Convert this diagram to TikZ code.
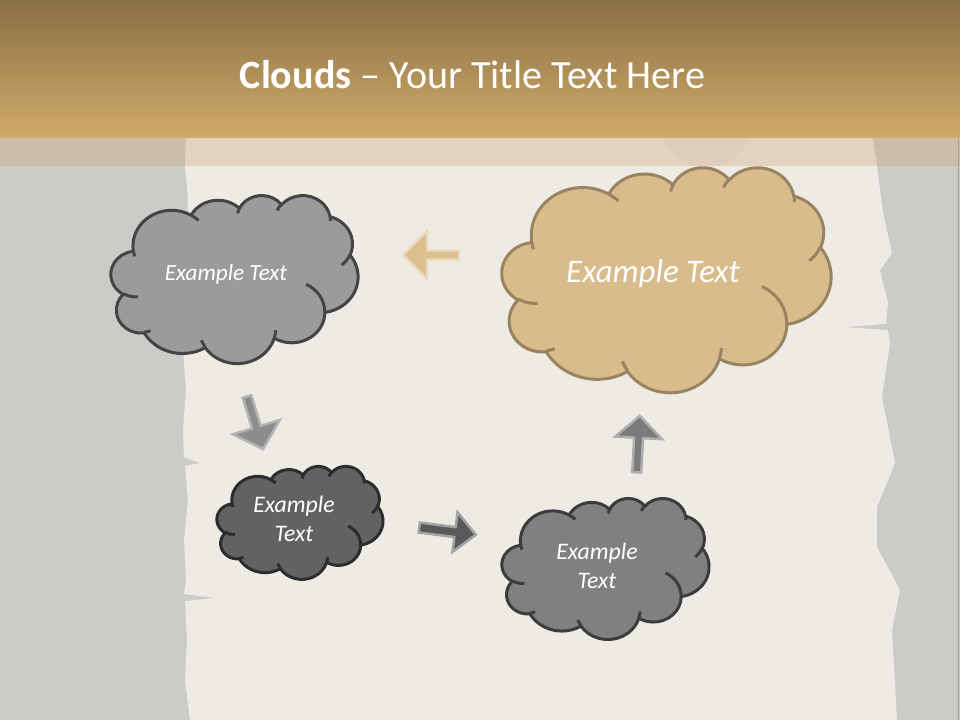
\documentclass[tikz,border=0pt]{standalone}
\usepackage{fontspec}
\setmainfont{Carlito}
\definecolor{bggray}{HTML}{CBCBC8}
\definecolor{paper}{HTML}{EEEBE5}
\definecolor{bandtop}{HTML}{8B7046}
\definecolor{bandbot}{HTML}{CFAA69}
\definecolor{stripc}{HTML}{C8A36A}
\definecolor{cAfill}{HTML}{9B9B9B}
\definecolor{cAline}{HTML}{444444}
\definecolor{cBfill}{HTML}{D9BC8C}
\definecolor{cBline}{HTML}{9A8361}
\definecolor{cCfill}{HTML}{626262}
\definecolor{cCline}{HTML}{2C2C2C}
\definecolor{cDfill}{HTML}{808080}
\definecolor{cDline}{HTML}{3C3C3C}
\definecolor{aAfill}{HTML}{DCBF8F}
\definecolor{aAline}{HTML}{EAD9BD}
\definecolor{aBfill}{HTML}{8D8D8D}
\definecolor{aBline}{HTML}{B3B3B3}
\definecolor{aCfill}{HTML}{595959}
\definecolor{aCline}{HTML}{A3A3A3}
\definecolor{aDfill}{HTML}{7B7B7B}
\definecolor{aDline}{HTML}{AEAEAE}

\newcommand\cloudpath{}
\newcommand\cloudinner{}
\newcommand\cloudaddarc[4]{%
  \pgfmathsetmacro\clTa{atan2((#1)*sin(#3),(#2)*cos(#3))}%
  \pgfmathsetmacro\clTb{atan2((#1)*sin((#3)+(#4)),(#2)*cos((#3)+(#4)))}%
  \pgfmathsetmacro\clTb{ifthenelse(\clTb<\clTa,\clTb+360,\clTb)}%
  \xdef\cloudpath{\cloudpath arc[start angle=\clTa, end angle=\clTb, x radius=#1, y radius=#2] }%
}
\newcommand\cloudaddinner[6]{%
  \pgfmathsetmacro\clTa{atan2((#3)*sin(#5),(#4)*cos(#5))}%
  \pgfmathsetmacro\clTb{atan2((#3)*sin((#5)+(#6)),(#4)*cos((#5)+(#6)))}%
  \pgfmathsetmacro\clTb{ifthenelse(\clTb<\clTa,\clTb+360,\clTb)}%
  \xdef\cloudinner{\cloudinner (#1,#2) arc[start angle=\clTa, end angle=\clTb, x radius=#3, y radius=#4] }%
}
\newcommand\drawcloud[5]{%
  \begin{scope}[shift={(#1,#2)}, xscale=#3/43.2, yscale=#4/43.2]
    \edef\clCmd{\noexpand\filldraw[cloudline, fill=#5fill, draw=#5line] (3.9,14.37) \cloudpath -- cycle;}\clCmd
    \edef\clCmd{\noexpand\draw[cloudline, draw=#5line] \cloudinner;}\clCmd
  \end{scope}}
\newcommand\blockarrow[8]{%
  \begin{scope}[shift={(#1,#2)}, rotate={-1*(#3)}]
    \filldraw[arrowline, fill=#8fill, draw=#8line]
      (0,-#7/2) -- (#4-#5,-#7/2) -- (#4-#5,-#6/2) -- (#4,0)
      -- (#4-#5,#6/2) -- (#4-#5,#7/2) -- (0,#7/2) -- cycle;
  \end{scope}}

\tikzset{
  cloudline/.style={line width=1.7pt, line join=round},
  arrowline/.style={line width=1.4pt, line join=miter},
  cltext/.style={text=white, font=\itshape\fontsize{13.2}{16.2}\selectfont, align=center, inner sep=0pt},
  smtext/.style={text=white, font=\itshape\fontsize{13.5}{16.2}\selectfont, align=center, inner sep=0pt},
  bigtext/.style={text=white, font=\itshape\fontsize{18.7}{21}\selectfont, align=center, inner sep=0pt},
  titletext/.style={text=white, font=\fontsize{22.8}{28}\selectfont, inner sep=0pt}
}

\begin{document}
\cloudaddarc{6.753}{9.190}{-190.4875}{123.7805}%
\cloudaddarc{5.333}{7.267}{-144.1024}{89.9452}%
\cloudaddarc{4.365}{5.945}{-145.8079}{99.7230}%
\cloudaddarc{4.857}{6.595}{-130.9861}{117.2417}%
\cloudaddarc{5.333}{7.273}{-78.7089}{109.0269}%
\cloudaddarc{6.775}{9.220}{-46.2673}{130.2690}%
\cloudaddarc{5.785}{7.867}{0.6250}{114.0333}%
\cloudaddarc{6.752}{9.215}{22.4516}{115.1726}%
\cloudaddarc{7.720}{10.543}{66.2426}{75.7110}%
\cloudaddarc{4.360}{5.918}{-274.9421}{146.7356}%
\cloudaddarc{4.345}{5.945}{-246.8285}{152.5189}%
\cloudaddinner{4.693}{26.177}{4.345}{5.945}{86.7420}{26.4295}%
\cloudaddinner{6.928}{34.899}{4.360}{5.918}{73.6105}{11.4475}%
\cloudaddinner{16.478}{39.090}{6.752}{9.215}{137.6242}{14.0811}%
\cloudaddinner{28.827}{34.751}{6.752}{9.215}{6.4533}{15.9984}%
\cloudaddinner{34.129}{22.954}{5.785}{7.867}{-70.2924}{70.9174}%
\cloudaddinner{41.798}{15.354}{5.333}{7.273}{30.3180}{27.7515}%
\cloudaddinner{38.324}{5.426}{4.857}{6.595}{-13.7443}{14.8589}%
\cloudaddinner{29.078}{3.952}{4.857}{6.595}{-149.1815}{18.1954}%
\cloudaddinner{22.141}{4.720}{4.365}{5.945}{-163.4943}{17.6864}%
\cloudaddinner{14.000}{5.192}{6.753}{9.190}{-66.7070}{12.3194}%
\cloudaddinner{4.127}{15.789}{6.753}{9.190}{157.6544}{11.8582}%
\begin{tikzpicture}[x=0.02cm, y=-0.02cm]
\useasboundingbox (0,0) rectangle (960,720);
% background
\fill[bggray] (0,0) rectangle (960,720);
\fill[paper] (186,120) -- (185,166) -- (188,200) -- (186,250) -- (189,300) -- (185,330)
  -- (183,350) -- (186,390) -- (183,430) -- (184,457) -- (200,463) -- (185,466)
  -- (188,500) -- (184,540) -- (186,580) -- (184,594) -- (215,598) -- (185,601)
  -- (187,640) -- (185,680) -- (190,720) -- (897,720) -- (892,630) -- (900,590)
  -- (877,547) -- (877,507) -- (895,463) -- (882,397) -- (890,343) -- (888,330)
  -- (845,327) -- (886,324) -- (888,303) -- (880,270) -- (892,253) -- (883,213)
  -- (880,190) -- (877,166) -- (870,120) -- cycle;
\draw[bggray!80!black, line width=0.6pt] (958.7,0) -- (958.7,720);
% strip with cup ring
\begin{scope}
  \clip (0,137) rectangle (960,166);
  \fill[black, opacity=0.025] (706,118) circle (50);
  \draw[white, opacity=0.18, line width=1pt] (706,118) circle (50);
\end{scope}
\fill[stripc, opacity=0.32] (0,137) rectangle (960,166);
% title band
\shade[top color=bandtop, bottom color=bandbot] (0,0) rectangle (960,137);
\node[titletext, anchor=base] (title) at (472.5,88) {\textbf{Clouds} – Your Title Text Here};
% clouds
\drawcloud{111}{195}{247}{168}{cA}
\drawcloud{502}{167}{329}{225}{cB}
\drawcloud{217}{466}{166}{113}{cC}
\drawcloud{502}{498}{207}{141}{cD}
\node[cltext] (t1) at (226,274) {Example Text};
\node[bigtext] (t2) at (653,274) {Example Text};
\node[smtext] (t3) at (294,519) {Example\\Text};
\node[smtext] (t4) at (597,566) {Example\\Text};
% block arrows
\blockarrow{459}{255}{180}{56}{24}{48}{9}{aA}
\blockarrow{247}{396.5}{73}{55}{23}{49}{9}{aB}
\blockarrow{419.3}{527.5}{7.3}{57}{21}{40}{10}{aC}
\blockarrow{636.7}{472.3}{-86.8}{56.5}{22}{47}{9}{aD}
\end{tikzpicture}
\end{document}
